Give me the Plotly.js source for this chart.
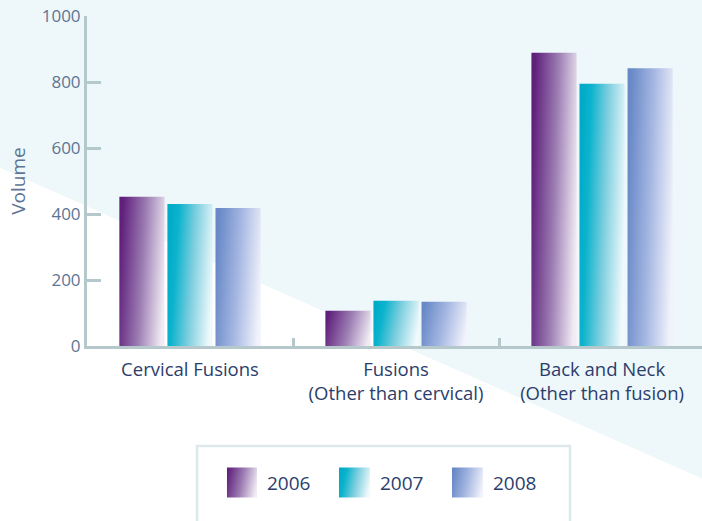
<!DOCTYPE html>
<html>
<head>
<meta charset="utf-8">
<script src="https://cdn.plot.ly/plotly-3.0.1.min.js"></script>
<style>
  html, body { margin: 0; padding: 0; background: #ffffff; }
  #chart { width: 702px; height: 521px; }
</style>
</head>
<body>
<div id="chart"></div>
<script>
// ---- data ----
const categories = ["Cervical Fusions", "Fusions<br>(Other than cervical)", "Back and Neck<br>(Other than fusion)"];
const years = ["2006", "2007", "2008"];
const values2006 = [452, 107, 889];
const values2007 = [430, 137, 795];
const values2008 = [418, 134, 842];
const yTickVals = [0, 200, 400, 600, 800, 1000];

// ---- styles ----
const baseColors = ["#6a2d84", "#00b0cc", "#7190cd"];
const gradients = [
  [["0", "#5f1f7b"], ["0.5", "#9b7cb2"], ["1", "#f1ebf4"]],
  [["0", "#00abc8"], ["0.18", "#0cb3cd"], ["0.55", "#7fcfdf"], ["1", "#f0fafc"]],
  [["0", "#6888c7"], ["0.5", "#a6b8e2"], ["1", "#f1f2fb"]]
];
const axisColor = "#b5c9cd";
const tickFontColor = "#5d7593";
const labelColor = "#2b3d6b";
const FONT = "'Open Sans', 'Noto Sans', sans-serif";

const series = [values2006, values2007, values2008];
const traces = series.map((vals, i) => ({
  type: "bar",
  name: years[i],
  x: categories,
  y: vals,
  marker: { color: baseColors[i], line: { width: 0 } },
  hoverinfo: "skip"
}));

const layout = {
  width: 702,
  height: 521,
  margin: { l: 87, r: 0, t: 16, b: 175, pad: 0 },
  paper_bgcolor: "#ffffff",
  plot_bgcolor: "rgba(0,0,0,0)",
  font: { family: FONT, color: tickFontColor, size: 16 },
  barmode: "group",
  bargap: 0.3,
  bargroupgap: 0.06,
  showlegend: true,
  legend: {
    orientation: "h",
    x: 0.2276,
    xanchor: "left",
    y: -0.414,
    yanchor: "middle",
    font: { family: FONT, size: 19, color: labelColor },
    bgcolor: "rgba(0,0,0,0)",
    borderwidth: 0,
    entrywidth: 68,
    entrywidthmode: "pixels",
    traceorder: "normal"
  },
  xaxis: {
    type: "category",
    range: [-0.5, 2.485],
    showline: true,
    linecolor: axisColor,
    linewidth: 3,
    ticks: "inside",
    tickson: "boundaries",
    ticklen: 8,
    tickwidth: 3,
    tickcolor: axisColor,
    showgrid: false,
    zeroline: false,
    ticklabelstandoff: 5,
    tickfont: { family: FONT, size: 18.5, color: labelColor },
    fixedrange: true
  },
  yaxis: {
    range: [0, 1000],
    tickvals: yTickVals,
    ticktext: yTickVals.map(String),
    showline: true,
    linecolor: axisColor,
    linewidth: 3,
    ticks: "inside",
    ticklen: 14,
    tickwidth: 3,
    tickcolor: axisColor,
    showgrid: false,
    zeroline: false,
    tickfont: { family: FONT, size: 17, color: tickFontColor },
    title: { text: "Volume", font: { family: FONT, size: 19, color: tickFontColor }, standoff: 12 },
    fixedrange: true
  },
  shapes: [
    {
      type: "path",
      xref: "paper", yref: "paper",
      path: "M-0.15,1.07 L1.01,1.07 L1.01,-0.41 L-0.15,0.5470 Z",
      fillcolor: "#eef7f9",
      line: { width: 0 },
      layer: "below"
    },
    {
      type: "rect",
      xref: "paper", yref: "paper",
      x0: 0.1789, x1: 0.7854, y0: -0.58, y1: -0.303,
      fillcolor: "#ffffff",
      line: { color: "#dde8ea", width: 2.5 },
      layer: "below"
    }
  ]
};

Plotly.newPlot("chart", traces, layout, { staticPlot: true, displayModeBar: false }).then(gd => {
  const svg = gd.querySelector(".main-svg");
  const NS = "http://www.w3.org/2000/svg";
  let defs = svg.querySelector("defs");
  if (!defs) { defs = document.createElementNS(NS, "defs"); svg.insertBefore(defs, svg.firstChild); }
  gradients.forEach((stops, i) => {
    const lg = document.createElementNS(NS, "linearGradient");
    lg.setAttribute("id", "barGrad" + i);
    lg.setAttribute("x1", "0"); lg.setAttribute("y1", "0.4");
    lg.setAttribute("x2", "1"); lg.setAttribute("y2", "0.6");
    stops.forEach(([off, col]) => {
      const s = document.createElementNS(NS, "stop");
      s.setAttribute("offset", off);
      s.setAttribute("stop-color", col);
      lg.appendChild(s);
    });
    defs.appendChild(lg);
  });
  gd.querySelectorAll(".barlayer .trace").forEach((tr, i) => {
    tr.querySelectorAll(".point path").forEach(p => { p.style.fill = "url(#barGrad" + i + ")"; });
  });
  gd.querySelectorAll(".legend .traces").forEach((tr, i) => {
    tr.querySelectorAll(".legendpoints path").forEach(p => {
      p.setAttribute("d", "M10,15H-21V-15H10Z");
      p.style.fill = "url(#barGrad" + i + ")";
      p.style.stroke = "none";
    });
  });
});
</script>
</body>
</html>
